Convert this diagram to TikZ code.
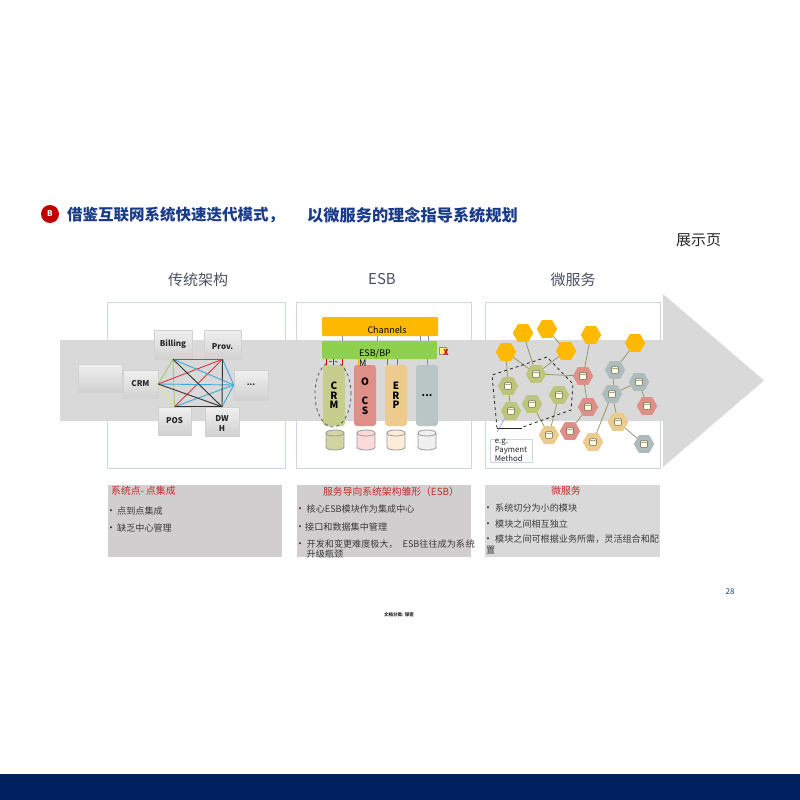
\documentclass[tikz,border=0pt]{standalone}
\usepackage{fontspec}
\usepackage{xcolor}
\setmainfont{Noto Sans CJK SC}
\usetikzlibrary{arrows.meta,calc,positioning,shapes.geometric}
\definecolor{navy}{HTML}{002060}
\definecolor{titleblue}{HTML}{1A3A8A}
\definecolor{badgered}{HTML}{C00000}
\definecolor{bandgray}{HTML}{D9D9D9}
\definecolor{noteone}{HTML}{D0CECE}
\definecolor{framelight}{HTML}{CBD6E6}
\definecolor{headgray}{HTML}{4A5260}
\definecolor{bodygray}{HTML}{3A3A3A}
\definecolor{notered}{HTML}{C8282D}
\definecolor{hexorange}{HTML}{FFB900}
\definecolor{hexgreen}{HTML}{BCC57A}
\definecolor{hexred}{HTML}{DD8F88}
\definecolor{hextan}{HTML}{EDCB8C}
\definecolor{hexgray}{HTML}{AEBBBC}
\definecolor{linkolive}{HTML}{8C9155}
\definecolor{esbgreen}{HTML}{8FD14F}
\definecolor{wirered}{HTML}{D5383F}
\definecolor{wireblue}{HTML}{3DA9D6}
\definecolor{wiregreen}{HTML}{A6C96A}
\definecolor{wireyellow}{HTML}{E6E67A}
\tikzset{
  frame/.style={draw=framelight,line width=0.9pt,fill=white},
  headtext/.style={text=headgray,font=\fontsize{15}{17}\selectfont},
  sysbox/.style={draw=black!18,line width=0.5pt,top color=black!6,bottom color=black!18,font=\bfseries\fontsize{8}{9.5}\selectfont,text=black!85,inner sep=1pt,align=center},
  coltower/.style={rounded corners=3pt,minimum width=22pt,minimum height=61pt,inner sep=0pt,align=center,font=\bfseries\fontsize{10}{9.5}\selectfont},
  pics/dbdrum/.style={code={
    \path[pic actions] (-9,-7) -- (-9,7) .. controls (-9,11) and (9,11) .. (9,7) -- (9,-7) .. controls (9,-11) and (-9,-11) .. (-9,-7) -- cycle;
    \path[pic actions] (-9,-7) .. controls (-9,-3) and (9,-3) .. (9,-7);
  }},
  drum/.style={draw=black!40,line width=0.8pt},
  minidrum/.style={draw=black!65,line width=0.4pt,fill=white!85!yellow,scale=0.37},
  hexnode/.style={regular polygon,regular polygon sides=6,minimum size=20.5pt,inner sep=0pt},
  hexlink/.style={linkolive,line width=0.7pt},
  note/.style={anchor=west,inner sep=0pt,text=bodygray,font=\fontsize{9.1}{11}\selectfont},
  notedot/.style={inner sep=0pt,text=bodygray,font=\fontsize{10}{11}\selectfont},
  notehead/.style={inner sep=0pt,text=notered,font=\fontsize{9.8}{12}\selectfont}
}
\begin{document}
\begin{tikzpicture}[x=1pt,y=-1pt]
  \useasboundingbox (0,0) rectangle (800,800);
  \fill[navy] (0,774) rectangle (800,800);
  % title
  \node[circle,fill=badgered,minimum size=18pt,inner sep=0pt,text=white,font=\bfseries\fontsize{8}{8}\selectfont] (badge) at (50,214) {B};
  \node[anchor=west,inner sep=0pt,text=titleblue,font=\bfseries\fontsize{15.5}{18}\selectfont] (title1) at (67,215) {借鉴互联网系统快速迭代模式，};
  \node[anchor=west,inner sep=0pt,text=titleblue,font=\bfseries\fontsize{16.2}{18}\selectfont] (title2) at (307,215) {以微服务的理念指导系统规划};
  \node[inner sep=0pt,text=black!85,font=\fontsize{15}{17}\selectfont] (showpage) at (698.5,240) {展示页};
  \node[headtext] (headold) at (198,280) {传统架构};
  \node[headtext] (headesb) at (382,279) {ESB};
  \node[headtext] (headmicro) at (573,280) {微服务};
  % frames, then the big arrow over them
  \draw[frame] (107,302) rectangle (285,468);
  \draw[frame] (296,302) rectangle (471,468);
  \draw[frame] (485,302) rectangle (660,468);
  \fill[bandgray] (60,340) -- (663,340) -- (663,294) -- (764,380.5) -- (663,467) -- (663,421) -- (60,421) -- cycle;
  % point to point
  \node[sysbox,minimum width=38pt,minimum height=29pt] (billing) at (173,344.5) {Billing};
  \node[sysbox,minimum width=37pt,minimum height=29pt] (prov) at (222.5,344.5) {\ \\Prov.};
  \node[sysbox,minimum width=44pt,minimum height=28pt] (blank) at (100,378) {};
  \node[sysbox,minimum width=35pt,minimum height=28pt] (crm) at (140.5,384) {CRM};
  \node[sysbox,minimum width=34pt,minimum height=30pt] (more) at (251,385) {...};
  \node[sysbox,minimum width=33pt,minimum height=28pt] (pos) at (174.5,421) {POS};
  \node[sysbox,minimum width=34pt,minimum height=29pt] (dwh) at (222,421.5) {\ \\[0pt]DW\\H};
  \draw[wiregreen,line width=0.9pt] (crm.east) -- (billing.south) -- (pos.north);
  \draw[wireyellow,line width=0.9pt] (crm.east) -- (pos.north);
  \foreach \aa/\bb in {crm.east/prov.south,billing.south/prov.south,prov.south/pos.north}
    \draw[wirered,line width=0.9pt] (\aa) -- (\bb);
  \foreach \aa/\bb in {crm.east/more.west,billing.south/more.west,prov.south/more.west,pos.north/more.west,dwh.north/more.west}
    \draw[wireblue,line width=0.9pt] (\aa) -- (\bb);
  \foreach \aa/\bb in {crm.east/dwh.north,billing.south/dwh.north,prov.south/dwh.north,pos.north/dwh.north}
    \draw[black!80,line width=0.9pt] (\aa) -- (\bb);
  % esb
  \node[fill=hexorange,rounded corners=1pt,minimum width=116pt,minimum height=19pt,inner sep=0pt] (channels) at (380,326.5) {};
  \node[inner sep=0pt,font=\fontsize{9}{10}\selectfont] (channeltext) at (387,330) {Channels};
  \node[fill=esbgreen,rounded corners=1pt,minimum width=115pt,minimum height=18pt,inner sep=0pt] (esbbp) at (379.5,350) {};
  \node[coltower,fill=hexgreen!85!white] (colcrm) at (334,395.5) {C\\R\\M};
  \node[coltower,fill=hexred] (colocs) at (365,395.5) {\ \\O\\ \\C\\S};
  \node[coltower,fill=hextan] (colerp) at (396,395.5) {E\\R\\P};
  \node[coltower,fill=hexgray!85!white] (colmore) at (427,395.5) {...};
  \node[inner sep=0pt,align=left,font=\fontsize{9}{10}\selectfont] (esblabel) at (375,357.5) {ESB/BP\\M};
  \pic[drum,fill=hexgreen!70!white] at (335,440) {dbdrum};
  \pic[drum,fill=red!15!white] at (366,440) {dbdrum};
  \pic[drum,fill=orange!15!white] at (396,440) {dbdrum};
  \pic[drum,fill=black!6] at (427,440) {dbdrum};
  \node[draw=black!70,dashed,line width=0.7pt,ellipse,minimum width=36pt,minimum height=66pt,inner sep=0pt] (ringcrm) at (333,394) {};
  \foreach \xx in {342,377,420,428}
    \draw[blue!45!black!45,line width=0.5pt] (\xx,0 |- channels.south) -- (\xx,0 |- esbbp.north);
  \foreach \xx in {326,333,342}
    \draw[red!80!black,line width=0.7pt] (\xx,0 |- esbbp.south) -- (\xx,0 |- colcrm.north);
  \draw[hexorange,line width=0.7pt] (358,0 |- esbbp.south) -- (358,0 |- colocs.north);
  \foreach \xx in {387,397}
    \draw[black!55,line width=0.5pt] (\xx,0 |- esbbp.south) -- (\xx,0 |- colerp.north);
  \draw[blue!50,line width=0.6pt] (427,0 |- esbbp.south) -- (427,0 |- colmore.north);
  \node[draw=black!45,fill=yellow!55!white,minimum size=7pt,inner sep=0pt] (warnbox) at (442.5,350.5) {};
  \node[inner sep=0pt,text=red!85!black,font=\bfseries\fontsize{8}{8}\selectfont] (warnx) at (446,353) {X};
  % micro services
  \foreach \nm/\xx/\yy/\cc in {ora/523/333/hexorange,orb/547/329/hexorange,orc/506/352/hexorange,ord/566/351/hexorange,ore/591/335/hexorange,orf/635/343/hexorange}
    \node[hexnode,fill=\cc] (\nm) at (\xx,\yy) {};
  \foreach \nm/\xx/\yy/\cc in {gra/536/374/hexgreen,grb/508/386/hexgreen,grc/511/411/hexgreen,grd/532/404/hexgreen,gre/559/395/hexgreen,
    rea/583/376/hexred,reb/588/407/hexred,rec/570/431/hexred,red/647/406/hexred,
    taa/549/435/hextan,tab/593/442/hextan,tac/618/422/hextan,
    gya/615/370/hexgray,gyb/639/382/hexgray,gyc/612/394/hexgray,gyd/644/444/hexgray}{
    \node[hexnode,fill=\cc] (\nm) at (\xx,\yy) {};
    \pic[minidrum] at (\nm) {dbdrum};
  }
  \foreach \aa/\bb in {orc/grb,grb/grc,orc/gra,ora/gra,orb/ord,ord/gra,gra/rea,ore/rea,rea/reb,reb/rec,orf/gya,gya/gyc,gyb/gyc,gyb/red,gyc/tab,gyc/tac,tac/gyd,gre/taa,grd/taa}
    \draw[hexlink] (\aa) -- (\bb);
  \draw[black!85,dashed,line width=0.8pt] (497,428) -- (492,375) -- (547,357) -- (573,384) -- (571,410) -- (523,427);
  \draw[black!85,line width=0.8pt] (497,428) -- (522,428);
  \node[draw=framelight,fill=white,line width=0.7pt,inner sep=0pt,minimum width=42pt,minimum height=23pt,align=left,font=\fontsize{7.8}{7.5}\selectfont,text=black!85] (payment) at (511,450.5) {e.g.\\Payment\\Method};
  \coordinate (paytop) at (505,418);
  \coordinate (payend) at (497,432);
  \draw[blue!50,line width=0.5pt] (paytop) -- (payend);
  % notes
  \fill[noteone] (108,485) rectangle (282,557);
  \fill[noteone] (297,485) rectangle (471,557);
  \fill[bandgray] (485,485) rectangle (660,557);
  \foreach \xx/\yy in {111/512,111/529,300/510,300/528,300/545,488/509,488/525,488/540}
    \node[notedot] at (\xx,\yy) {•};
  \node[notehead,anchor=west] (notehead1) at (111,490.5) {系统点- 点集成};
  \node[note] (noteaa) at (117,511) {点到点集成};
  \node[note] (noteab) at (117,528) {缺乏中心管理};
  \node[notehead] (notehead2) at (391,492) {服务导向系统架构雏形（ESB）};
  \node[note] (noteba) at (306.5,509) {核心ESB模块作为集成中心};
  \node[note] (notebb) at (305,527) {接口和数据集中管理};
  \node[note] (notebc) at (306.5,544) {开发和变更难度极大，\hspace{5pt}ESB往往成为系\hspace{1pt}统};
  \node[note] (notebd) at (306.5,554) {升级瓶颈};
  \node[notehead] (notehead3) at (566,491) {微服务};
  \node[note] (noteca) at (495,508) {系统切分为小的模块};
  \node[note] (notecb) at (495,524) {模块之间相互独立};
  \node[note] (notecc) at (495,539) {模块之间可根据业务所需，灵活组合和配};
  \node[note] (notecd) at (486,550) {置};
  \node[inner sep=0pt,text=titleblue,font=\fontsize{8}{10}\selectfont] (pagenum) at (730,592) {28};
  \node[inner sep=0pt,text=black!85,font=\bfseries\fontsize{4.5}{5}\selectfont] (docclass) at (399,615) {文档分类: 保密};
\end{tikzpicture}
\end{document}
